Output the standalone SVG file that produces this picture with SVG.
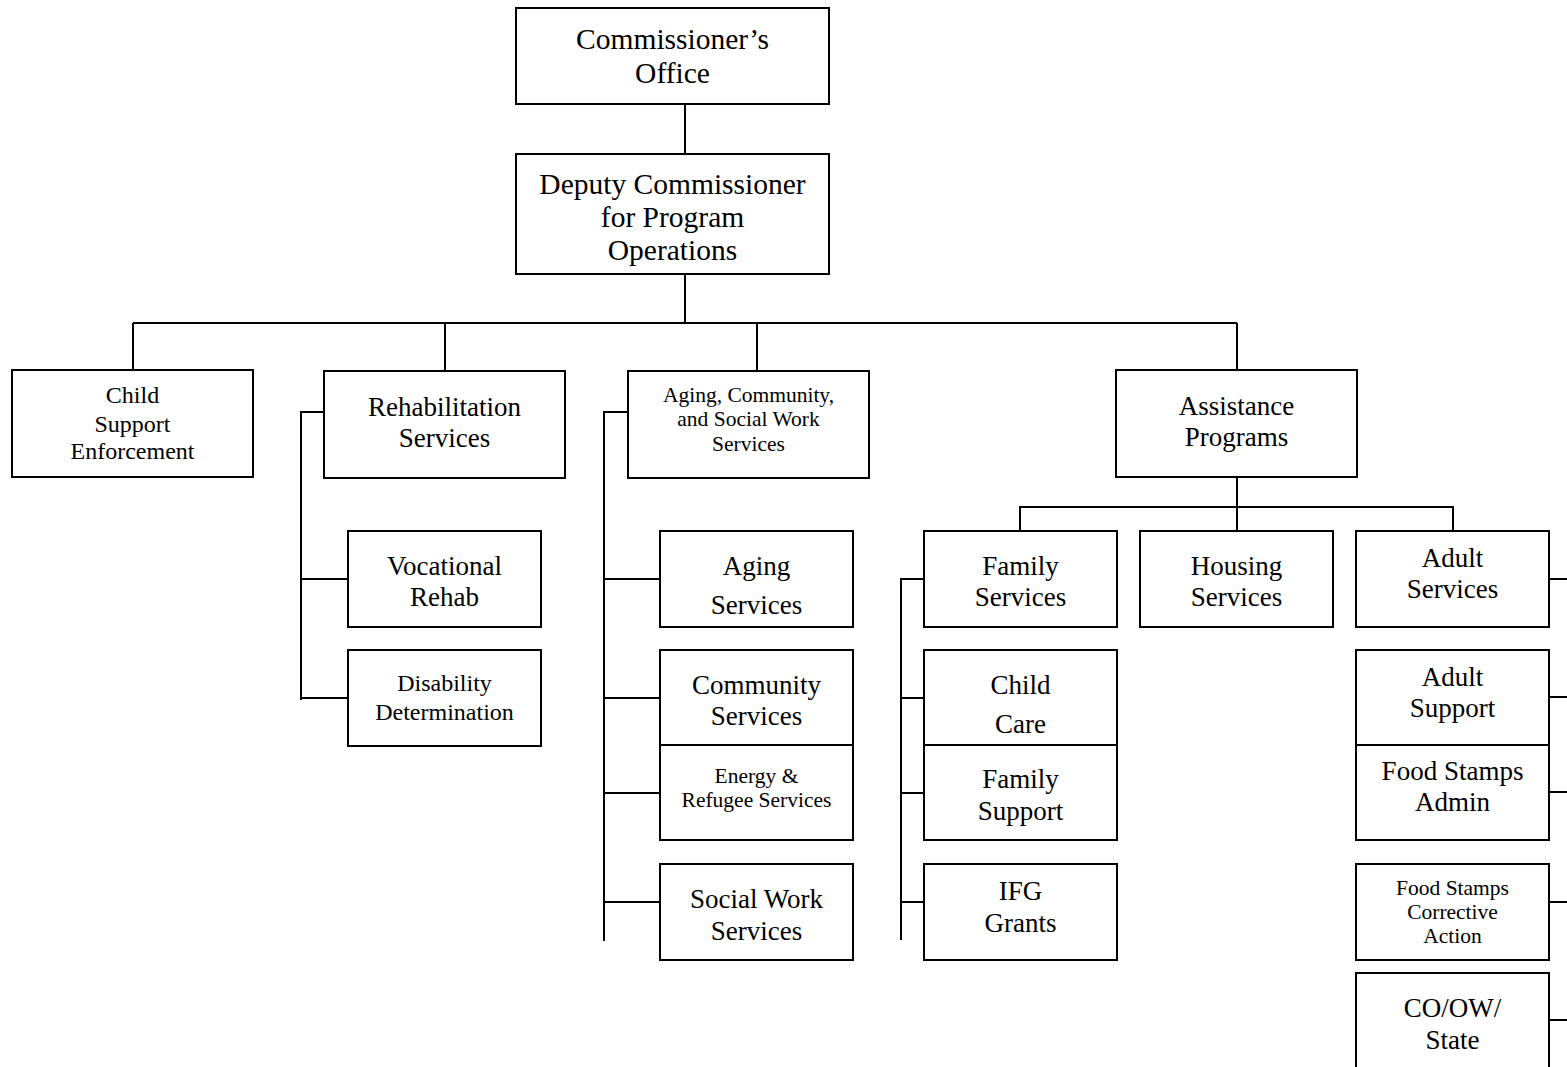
<svg xmlns="http://www.w3.org/2000/svg" width="1567" height="1067" viewBox="0 0 1567 1067">
  <style>
    .box { fill: #ffffff; stroke: #000000; stroke-width: 2; }
    .wire { fill: none; stroke: #000000; stroke-width: 2; }
    text { font-family: "Liberation Serif", "Times New Roman", serif; fill: #000000; text-anchor: middle; }
    .t30 { font-size: 29.5px; }
    .t27 { font-size: 27px; }
    .t24 { font-size: 24px; }
    .t21 { font-size: 21.5px; }
  </style>
  <rect width="1567" height="1067" fill="#ffffff"/>

  <!-- connectors -->
  <g id="connectors" class="wire">
    <path d="M685 104 V154"/>
    <path d="M685 274 V323"/>
    <path d="M133 323 H1237"/>
    <path d="M133 323 V370"/>
    <path d="M445 323 V371"/>
    <path d="M757 323 V371"/>
    <path d="M1237 323 V370"/>
    <!-- rehabilitation branch -->
    <path d="M324 412 H301 V700"/>
    <path d="M301 579 H348"/>
    <path d="M301 698 H348"/>
    <!-- aging / community branch -->
    <path d="M628 412 H604 V941"/>
    <path d="M604 579 H660"/>
    <path d="M604 698 H660"/>
    <path d="M604 793 H660"/>
    <path d="M604 902 H660"/>
    <!-- assistance programs -->
    <path d="M1237 477 V531"/>
    <path d="M1020 531 V507 H1453 V531"/>
    <!-- family services branch -->
    <path d="M924 579 H901 V940"/>
    <path d="M901 698 H924"/>
    <path d="M901 793 H924"/>
    <path d="M901 902 H924"/>
    <!-- adult services branch -->
    <path d="M1549 579 H1570"/>
    <path d="M1549 697 H1570"/>
    <path d="M1549 792 H1570"/>
    <path d="M1549 902 H1570"/>
    <path d="M1549 1020 H1570"/>
  </g>

  <g id="commissioner">
    <rect class="box" x="516" y="8" width="313" height="96"/>
    <text class="t30" x="672.5" y="49">Commissioner’s</text>
    <text class="t30" x="672.5" y="82.5">Office</text>
  </g>
  <g id="deputy">
    <rect class="box" x="516" y="154" width="313" height="120"/>
    <text class="t30" x="672.5" y="193.5">Deputy Commissioner</text>
    <text class="t30" x="672.5" y="226.5">for Program</text>
    <text class="t30" x="672.5" y="259.5">Operations</text>
  </g>

  <g id="child-support">
    <rect class="box" x="12" y="370" width="241" height="107"/>
    <text class="t24" x="132.5" y="403">Child</text>
    <text class="t24" x="132.5" y="432">Support</text>
    <text class="t24" x="132.5" y="459">Enforcement</text>
  </g>
  <g id="rehabilitation">
    <rect class="box" x="324" y="371" width="241" height="107"/>
    <text class="t27" x="444.5" y="416">Rehabilitation</text>
    <text class="t27" x="444.5" y="447">Services</text>
  </g>
  <g id="vocational-rehab">
    <rect class="box" x="348" y="531" width="193" height="96"/>
    <text class="t27" x="444.5" y="575">Vocational</text>
    <text class="t27" x="444.5" y="606">Rehab</text>
  </g>
  <g id="disability">
    <rect class="box" x="348" y="650" width="193" height="96"/>
    <text class="t24" x="444.5" y="691">Disability</text>
    <text class="t24" x="444.5" y="720">Determination</text>
  </g>

  <g id="aging-community">
    <rect class="box" x="628" y="371" width="241" height="107"/>
    <text class="t21" x="748.5" y="402">Aging, Community,</text>
    <text class="t21" x="748.5" y="426">and Social Work</text>
    <text class="t21" x="748.5" y="451">Services</text>
  </g>
  <g id="aging-services">
    <rect class="box" x="660" y="531" width="193" height="96"/>
    <text class="t27" x="756.5" y="575">Aging</text>
    <text class="t27" x="756.5" y="614">Services</text>
  </g>
  <g id="community-services">
    <rect class="box" x="660" y="650" width="193" height="95"/>
    <text class="t27" x="756.5" y="694">Community</text>
    <text class="t27" x="756.5" y="725">Services</text>
  </g>
  <g id="energy-refugee">
    <rect class="box" x="660" y="745" width="193" height="95"/>
    <text class="t21" x="756.5" y="783">Energy &amp;</text>
    <text class="t21" x="756.5" y="807">Refugee Services</text>
  </g>
  <g id="social-work">
    <rect class="box" x="660" y="864" width="193" height="96"/>
    <text class="t27" x="756.5" y="908">Social Work</text>
    <text class="t27" x="756.5" y="940">Services</text>
  </g>

  <g id="assistance">
    <rect class="box" x="1116" y="370" width="241" height="107"/>
    <text class="t27" x="1236.5" y="415">Assistance</text>
    <text class="t27" x="1236.5" y="446">Programs</text>
  </g>
  <g id="family-services">
    <rect class="box" x="924" y="531" width="193" height="96"/>
    <text class="t27" x="1020.5" y="575">Family</text>
    <text class="t27" x="1020.5" y="606">Services</text>
  </g>
  <g id="child-care">
    <rect class="box" x="924" y="650" width="193" height="95"/>
    <text class="t27" x="1020.5" y="694">Child</text>
    <text class="t27" x="1020.5" y="733">Care</text>
  </g>
  <g id="family-support">
    <rect class="box" x="924" y="745" width="193" height="95"/>
    <text class="t27" x="1020.5" y="788">Family</text>
    <text class="t27" x="1020.5" y="820">Support</text>
  </g>
  <g id="ifg-grants">
    <rect class="box" x="924" y="864" width="193" height="96"/>
    <text class="t27" x="1020.5" y="900">IFG</text>
    <text class="t27" x="1020.5" y="932">Grants</text>
  </g>
  <g id="housing">
    <rect class="box" x="1140" y="531" width="193" height="96"/>
    <text class="t27" x="1236.5" y="575">Housing</text>
    <text class="t27" x="1236.5" y="606">Services</text>
  </g>
  <g id="adult-services">
    <rect class="box" x="1356" y="531" width="193" height="96"/>
    <text class="t27" x="1452.5" y="567">Adult</text>
    <text class="t27" x="1452.5" y="598">Services</text>
  </g>
  <g id="adult-support">
    <rect class="box" x="1356" y="650" width="193" height="95"/>
    <text class="t27" x="1452.5" y="686">Adult</text>
    <text class="t27" x="1452.5" y="717">Support</text>
  </g>
  <g id="food-stamps-admin">
    <rect class="box" x="1356" y="745" width="193" height="95"/>
    <text class="t27" x="1452.5" y="780">Food Stamps</text>
    <text class="t27" x="1452.5" y="811">Admin</text>
  </g>
  <g id="food-stamps-corrective">
    <rect class="box" x="1356" y="864" width="193" height="96"/>
    <text class="t21" x="1452.5" y="895">Food Stamps</text>
    <text class="t21" x="1452.5" y="919">Corrective</text>
    <text class="t21" x="1452.5" y="943">Action</text>
  </g>
  <g id="co-ow-state">
    <rect class="box" x="1356" y="973" width="193" height="110"/>
    <text class="t27" x="1452.5" y="1017">CO/OW/</text>
    <text class="t27" x="1452.5" y="1049">State</text>
  </g>
</svg>
